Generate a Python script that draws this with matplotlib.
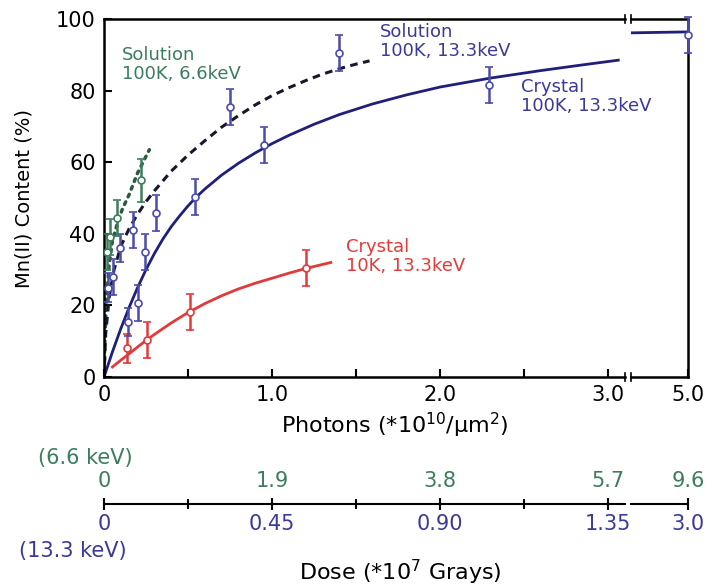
import numpy as np
import matplotlib
matplotlib.use('Agg')
import matplotlib.pyplot as plt

# fitted curves (photons *1e10/um^2 vs Mn(II) %)
cryst10_x = [0.05, 0.1, 0.15, 0.2, 0.25, 0.3, 0.4, 0.5, 0.6, 0.7, 0.8,
             0.9, 1.0, 1.1, 1.2, 1.35]
cryst10_y = [2.8, 4.7, 6.5, 8.4, 10.2, 11.9, 15.1, 18.0, 20.5, 22.7, 24.6,
             26.2, 27.6, 29.0, 30.3, 32.0]

cryst100_x = [0, 0.05, 0.1, 0.15, 0.2, 0.25, 0.3, 0.35, 0.4, 0.45, 0.5,
              0.55, 0.6, 0.7, 0.8, 0.9, 1.0, 1.1, 1.25, 1.4, 1.6, 1.8,
              2.0, 2.3, 2.6, 2.85, 3.06, np.nan, 4.62, 5.0]
cryst100_y = [0, 7, 13.5, 19.5, 25, 30, 34.5, 38.5, 42, 45, 47.8,
              50.3, 52.5, 56.4, 59.7, 62.6, 65.2, 67.5, 70.6, 73.3, 76.3, 78.8,
              81, 83.5, 85.6, 87.2, 88.5, np.nan, 96.1, 96.4]

sol133_x = [0, 0.01, 0.03, 0.06, 0.1, 0.15, 0.2, 0.25, 0.3, 0.4, 0.5,
            0.6, 0.7, 0.8, 0.9, 1.0, 1.1, 1.2, 1.3, 1.4, 1.5, 1.58]
sol133_y = [0, 12, 22, 30, 36.5, 41.5, 45.5, 49, 52, 57.5, 62,
            66, 69.8, 73, 76, 78.6, 80.8, 82.8, 84.6, 86.1, 87.4, 88.3]

sol66_x = [0, 0.005, 0.015, 0.03, 0.05, 0.08, 0.11, 0.15, 0.2, 0.27]
sol66_y = [0, 10, 22, 31, 38, 43, 47, 51, 57, 63.5]

# measured points with error bars
pts10_x = [0.135, 0.255, 0.51, 1.2]
pts10_y = [8, 10.3, 18.2, 30.4]
pts10_err = [4, 5, 5, 5]

pts100_x = [0.14, 0.20, 0.244, 0.54, 0.95, 2.29, 5.0]
pts100_y = [15.4, 20.6, 35, 50.3, 64.8, 81.5, 95.5]
pts100_err = [4, 5, 5, 5, 5, 5, 5]

ptsS133_x = [0.024, 0.055, 0.095, 0.175, 0.31, 0.75, 1.40]
ptsS133_y = [25, 28, 36, 41, 45.8, 75.4, 90.5]
ptsS133_err = [4, 5, 4, 5, 5, 5, 5]

ptsS66_x = [0.015, 0.036, 0.08, 0.22]
ptsS66_y = [35, 39, 44.5, 55]
ptsS66_err = [5, 5, 5, 6]

# dose scale labels
dose_pos = [0, 1, 2, 3]
dose66_labels = ['0', '1.9', '3.8', '5.7']
dose133_labels = ['0', '0.45', '0.90', '1.35']
dose66_end = '9.6'
dose133_end = '3.0'

NAVY = '#1f1f7c'
BLUE = '#4b4bab'
TBLUE = '#3a3a98'
RED = '#e23a3a'
GREEN = '#3c7d5c'
DGREEN = '#2d5a3c'
DASH = '#18182c'

W, H = 714, 588
fig = plt.figure(figsize=(W / 100, H / 100), dpi=100)


def box(x0, y0, x1, y1):
    return [x0 / W, 1 - y1 / H, (x1 - x0) / W, (y1 - y0) / H]


ax = fig.add_axes(box(104, 19, 625, 377))
axr = fig.add_axes(box(631, 19, 688, 377))
axr.patch.set_visible(False)


def points(a, x, y, e, c, right=False):
    x = np.asarray(x); y = np.asarray(y); e = np.asarray(e)
    m = x > 4 if right else x < 4
    if not m.any():
        return
    a.errorbar(x[m], y[m], yerr=e[m], fmt='o', ms=5, mfc='white', mec=c,
               mew=1.2, ecolor=c, elinewidth=1.8, capsize=3, capthick=1.8,
               clip_on=not right, zorder=3)


for a, right in ((ax, False), (axr, True)):
    a.plot(sol66_x, sol66_y, color=DGREEN, lw=2.5, ls=(0, (0.8, 1.6)),
           dash_capstyle='round')
    a.plot(sol133_x, sol133_y, color=DASH, lw=2.2, ls=(0, (2.5, 1.8)))
    a.plot(cryst100_x, cryst100_y, color=NAVY, lw=2)
    a.plot(cryst10_x, cryst10_y, color=RED, lw=2)
    points(a, pts10_x, pts10_y, pts10_err, RED, right)
    points(a, pts100_x, pts100_y, pts100_err, BLUE, right)
    points(a, ptsS133_x, ptsS133_y, ptsS133_err, BLUE, right)
    points(a, ptsS66_x, ptsS66_y, ptsS66_err, GREEN, right)
    a.set_ylim(0, 100)
    for s in a.spines.values():
        s.set_linewidth(1.8)

ax.set_xlim(0, 3.10)
axr.set_xlim(4.66, 5.0)
ax.spines['right'].set_visible(False)
axr.spines['left'].set_visible(False)

ax.set_xticks(np.arange(0, 3.01, 0.5),
              ['0', '', '1.0', '', '2.0', '', '3.0'])
ax.set_yticks(range(0, 101, 20))
ax.tick_params(direction='in', length=6, width=1.5, labelsize=15, pad=6)
axr.set_xticks([5.0], ['5.0'])
axr.set_yticks([])
axr.tick_params(direction='in', length=6, width=1.5, labelsize=15, pad=6)

ax.set_ylabel('Mn(II) Content (%)', fontsize=14, labelpad=16)
fig.text(395 / W, 1 - 425 / H, 'Photons (*10$^{10}$/µm$^{2}$)',
         ha='center', va='center', fontsize=16)

# break marks
kw = dict(color='black', lw=1.2, clip_on=False)
for a, x in ((ax, 1.0), (axr, 0.0)):
    for y in (0, 1):
        a.plot([x, x], [y - 0.012, y + 0.012], transform=a.transAxes, **kw)

tkw = dict(fontsize=13, va='top', linespacing=1.1, clip_on=False, zorder=5)
ax.text(0.107, 92.5, 'Solution\n100K, 6.6keV', color=GREEN, **tkw)
ax.text(1.64, 99, 'Solution\n100K, 13.3keV', color=TBLUE, **tkw)
ax.text(2.48, 83.5, 'Crystal\n100K, 13.3keV', color=TBLUE, **tkw)
ax.text(1.44, 38.8, 'Crystal\n10K, 13.3keV', color=RED, **tkw)

# dose axis
dl = fig.add_axes(box(104, 503.9, 625, 504))
dr = fig.add_axes(box(631, 503.9, 688, 504))
dl.set_xlim(ax.get_xlim())
dr.set_xlim(axr.get_xlim())
for d in (dl, dr):
    d.set_yticks([])
    d.patch.set_visible(False)
    for k in ('top', 'left', 'right'):
        d.spines[k].set_visible(False)
    d.spines['bottom'].set_linewidth(1.5)
    d.tick_params(axis='x', direction='inout', length=9, width=1.5,
                  labelsize=15, labelcolor=TBLUE, pad=3)
dl.set_xticks(dose_pos, dose133_labels)
dl.set_xticks([0.5, 1.5, 2.5], minor=True)
dl.tick_params(axis='x', which='minor', direction='inout', length=7, width=1.5)
dr.set_xticks([5.0], [dose133_end])
top_l = dl.secondary_xaxis('top')
top_l.set_xticks(dose_pos, dose66_labels)
top_r = dr.secondary_xaxis('top')
top_r.set_xticks([5.0], [dose66_end])
for t in (top_l, top_r):
    t.spines['top'].set_visible(False)
    t.tick_params(length=0, labelsize=15, labelcolor=GREEN, pad=9)
for a, x in ((dl, 1.0), (dr, 0.0)):
    a.plot([x, x], [-1, 1], transform=a.get_xaxis_transform(), **kw)

fig.text(85 / W, 1 - 458 / H, '(6.6 keV)', color=GREEN, fontsize=15,
         ha='center', va='center')
fig.text(73 / W, 1 - 551 / H, '(13.3 keV)', color=TBLUE, fontsize=15,
         ha='center', va='center')
fig.text(400 / W, 1 - 587 / H, 'Dose (*10$^{7}$ Grays)', fontsize=16,
         ha='center', va='bottom')

fig.savefig('out.png', dpi=100)
